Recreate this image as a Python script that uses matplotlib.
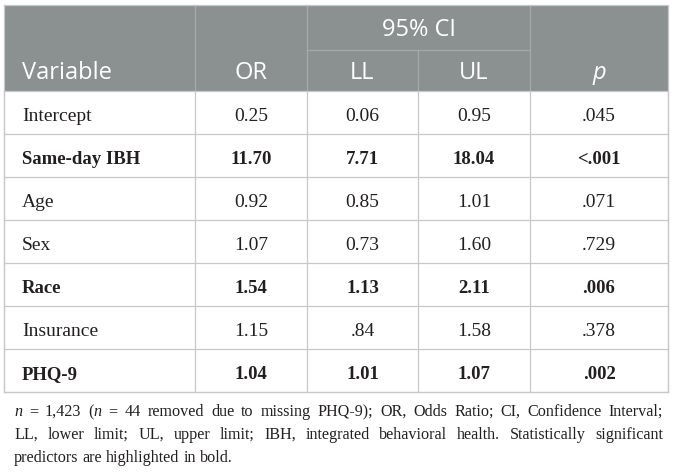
import matplotlib
matplotlib.use("Agg")
import matplotlib.pyplot as plt

# table contents
variables = ["Intercept", "Same-day IBH", "Age", "Sex", "Race", "Insurance", "PHQ-9"]
odds_ratio = ["0.25", "11.70", "0.92", "1.07", "1.54", "1.15", "1.04"]
lower_limit = ["0.06", "7.71", "0.85", "0.73", "1.13", ".84", "1.01"]
upper_limit = ["0.95", "18.04", "1.01", "1.60", "2.11", "1.58", "1.07"]
p_values = [".045", "<.001", ".071", ".729", ".006", ".378", ".002"]
significant = [False, True, False, False, True, False, True]

header_cols = ["Variable", "OR", "LL", "UL", "p"]
group_label = "95% CI"

# footnote, split in the same lines as the figure
footnote_lines = [
    "n = 1,423 (n = 44 removed due to missing PHQ-9); OR, Odds Ratio; CI, Confidence Interval;",
    "LL, lower limit; UL, upper limit; IBH, integrated behavioral health. Statistically significant",
    "predictors are highlighted in bold.",
]

W, H = 673, 474
fig = plt.figure(figsize=(W / 100, H / 100), dpi=100)
ax = fig.add_axes([0, 0, 1, 1])
ax.set_xlim(0, W)
ax.set_ylim(H, 0)
ax.axis("off")

col_edges = [4, 195, 307, 418, 530, 668]
top, ci_line, head_bottom = 5, 50, 91
row_h = 43
n_rows = len(variables)
bottom = head_bottom + row_h * n_rows

head_color = "#8b9091"
grid_color = "#c8c8c8"
head_grid = "#a4a9aa"
txt_color = "#231f20"

# header background
ax.fill_between([col_edges[0], col_edges[-1]], top, head_bottom, color=head_color, lw=0)
# header inner lines
for x in col_edges[1:-1]:
    if x == 418:
        ax.plot([x, x], [ci_line, head_bottom], color=head_grid, lw=0.9)
    else:
        ax.plot([x, x], [top, head_bottom], color=head_grid, lw=0.9)
ax.plot([col_edges[2], col_edges[4]], [ci_line, ci_line], color=head_grid, lw=0.9)

# body grid
for i in range(n_rows + 1):
    y = head_bottom + i * row_h
    ax.plot([col_edges[0], col_edges[-1]], [y, y], color=grid_color, lw=0.9)
for x in col_edges:
    ax.plot([x, x], [head_bottom, bottom], color=grid_color, lw=0.9)
# outer border
ax.plot([col_edges[0], col_edges[-1], col_edges[-1], col_edges[0], col_edges[0]],
        [top, top, bottom, bottom, top], color=grid_color, lw=0.9)

# header text
sans = "Open Sans"
hfs = 17
centers = [(col_edges[i] + col_edges[i + 1]) / 2 for i in range(5)]
ax.text(22, 79, header_cols[0], color="white", fontsize=hfs, family=sans, va="baseline", ha="left")
for i in range(1, 5):
    ax.text(centers[i], 79, header_cols[i], color="white", fontsize=hfs, family=sans,
            va="baseline", ha="center", style="italic" if header_cols[i] == "p" else "normal")
ax.text((col_edges[2] + col_edges[4]) / 2, 36, group_label, color="white", fontsize=hfs,
        family=sans, va="baseline", ha="center")

# body text (bold Times runs wider, so it gets a slightly smaller size)
serif = "Liberation Serif"
for r in range(n_rows):
    yb = head_bottom + r * row_h + 30
    w = "bold" if significant[r] else "normal"
    bfs = 13.5 if significant[r] else 14
    ax.text(22, yb, variables[r], fontsize=bfs, family=serif, weight=w, color=txt_color, va="baseline")
    for c, vals in enumerate([odds_ratio, lower_limit, upper_limit, p_values], start=1):
        ax.text(centers[c], yb, vals[r], fontsize=bfs, family=serif, weight=w,
                color=txt_color, va="baseline", ha="center")

# footnote with justified lines
renderer = fig.canvas.get_renderer()
left, right = 14, 663
baselines = [416, 439, 462]
fs = 11.6


def pieces(word):
    # "n" and "(n" carry an italic n
    if word == "n":
        return [("n", True)]
    if word == "(n":
        return [("(", False), ("n", True)]
    return [(word, False)]


for li, line in enumerate(footnote_lines):
    words = line.split(" ")
    items = []
    total = 0
    for wd in words:
        arts = []
        for txt, it in pieces(wd):
            t = ax.text(0, baselines[li], txt, fontsize=fs, family=serif, color=txt_color,
                        style="italic" if it else "normal", va="baseline")
            ww = t.get_window_extent(renderer).width
            arts.append((t, ww))
            total += ww
        items.append(arts)
    if li < len(footnote_lines) - 1:
        gap = (right - left - total) / (len(words) - 1)
    else:
        sp = ax.text(0, 0, "a a", fontsize=fs, family=serif)
        sp2 = ax.text(0, 0, "aa", fontsize=fs, family=serif)
        gap = sp.get_window_extent(renderer).width - sp2.get_window_extent(renderer).width
        sp.remove()
        sp2.remove()
    x = left
    for arts in items:
        for t, ww in arts:
            t.set_x(x)
            x += ww
        x += gap

fig.savefig("out.png", dpi=100)
